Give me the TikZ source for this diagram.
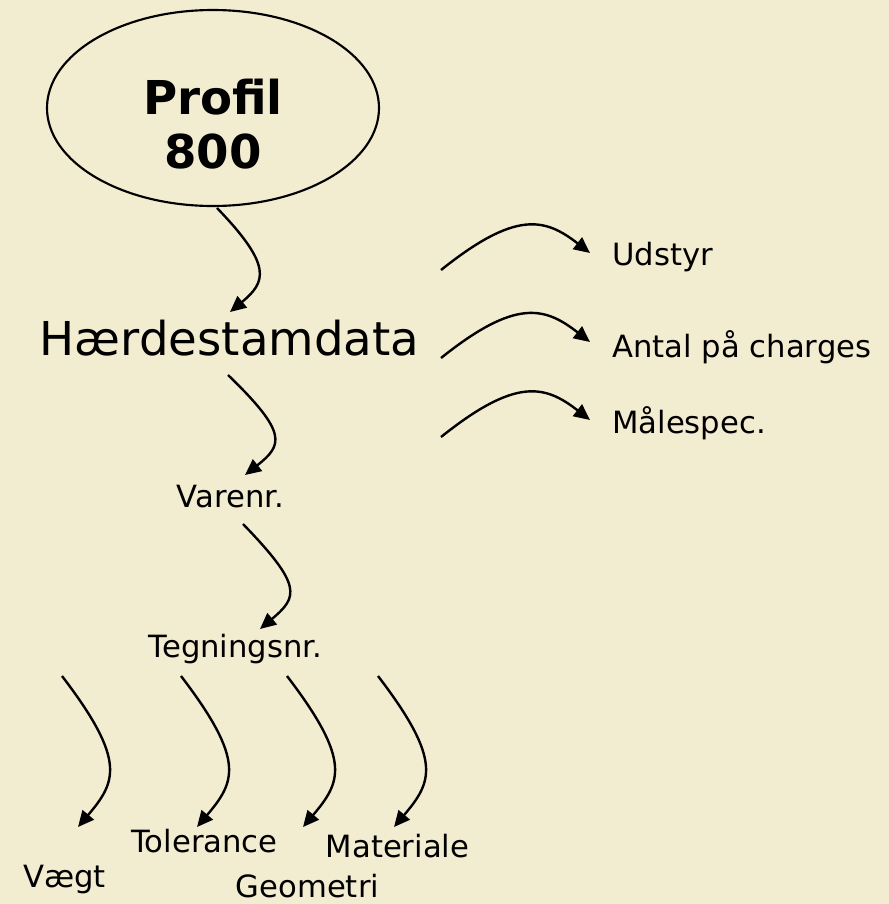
\documentclass[tikz,border=0pt]{standalone}
\usepackage{fontspec}
\setmainfont{DejaVu Sans}
\usetikzlibrary{arrows.meta,shapes.geometric}
\definecolor{bgcream}{RGB}{242,236,208}
\tikzset{
    every node/.style={align=center,inner sep=0pt,},
    profilshape/.style={draw,ellipse,line width=1.6pt,minimum width=249pt,minimum height=147pt,},
    bigtext/.style={font=\fontsize{35}{41}\selectfont,},
    smalltext/.style={font=\fontsize{23}{27}\selectfont,},
    curl/.style={line width=1.8pt,-{Triangle[length=12pt,width=11pt]},},
}

\begin{document}
\begin{tikzpicture}[x=0.75pt,y=-0.75pt]
                \fill[bgcream] (0,0) rectangle (889,904);

                \node[profilshape] (profil) at (213,108) {};
                \node[bigtext,font=\fontsize{35}{41}\selectfont\bfseries] (profiltext) at (213,124) {Profil\\800};

                \node[bigtext,anchor=base] (haerde) at (229.5,355) {Hærdestamdata};
                \node[smalltext,anchor=base] (varenr) at (230.5,507) {Varenr.};
                \node[smalltext,anchor=base] (tegning) at (235.5,657) {Tegningsnr.};

                \node[smalltext,anchor=base west] (udstyr) at (612,265) {Udstyr};
                \node[smalltext,anchor=base west] (antal) at (612,357) {Antal på charges};
                \node[smalltext,anchor=base west] (maale) at (612,433) {Målespec.};

                \node[smalltext,anchor=base] (vaegt) at (64.5,887) {Vægt};
                \node[smalltext,anchor=base] (tolerance) at (204.5,852) {Tolerance};
                \node[smalltext,anchor=base] (geometri) at (307.5,897) {Geometri};
                \node[smalltext,anchor=base] (materiale) at (397.5,857) {Materiale};

                % free ends of the arrows
                \coordinate (p1) at (217,208);  \coordinate (h1) at (230,312);
                \coordinate (h2) at (228,375);  \coordinate (v1) at (245,475);
                \coordinate (v2) at (243,524);  \coordinate (t1) at (260,629);
                \coordinate (r1) at (441,270);  \coordinate (u1) at (590,253);
                \coordinate (r2) at (441,358);  \coordinate (a1) at (590,342);
                \coordinate (r3) at (441,437);  \coordinate (m1) at (590,420);

                \draw[curl] (p1) .. controls +(56,58) and +(36,-30) .. (h1);
                \draw[curl] (h2) .. controls +(60,58) and +(38,-30) .. (v1);
                \draw[curl] (v2) .. controls +(60,62) and +(38,-32) .. (t1);

                \draw[curl] (r1) .. controls +(75,-60) and +(-45,-35) .. (u1);
                \draw[curl] (r2) .. controls +(75,-60) and +(-45,-35) .. (a1);
                \draw[curl] (r3) .. controls +(75,-60) and +(-45,-35) .. (m1);

                \foreach \sx/\name in {62/vaegt,181/tolerance,287/geometri,378/materiale}{
                    \coordinate (\name top) at (\sx,676);
                    \coordinate (\name tip) at (\sx+16,827);
                    \draw[curl] (\name top) .. controls +(65,85) and +(38,-45) .. (\name tip);
                }
            \end{tikzpicture}
\end{document}
